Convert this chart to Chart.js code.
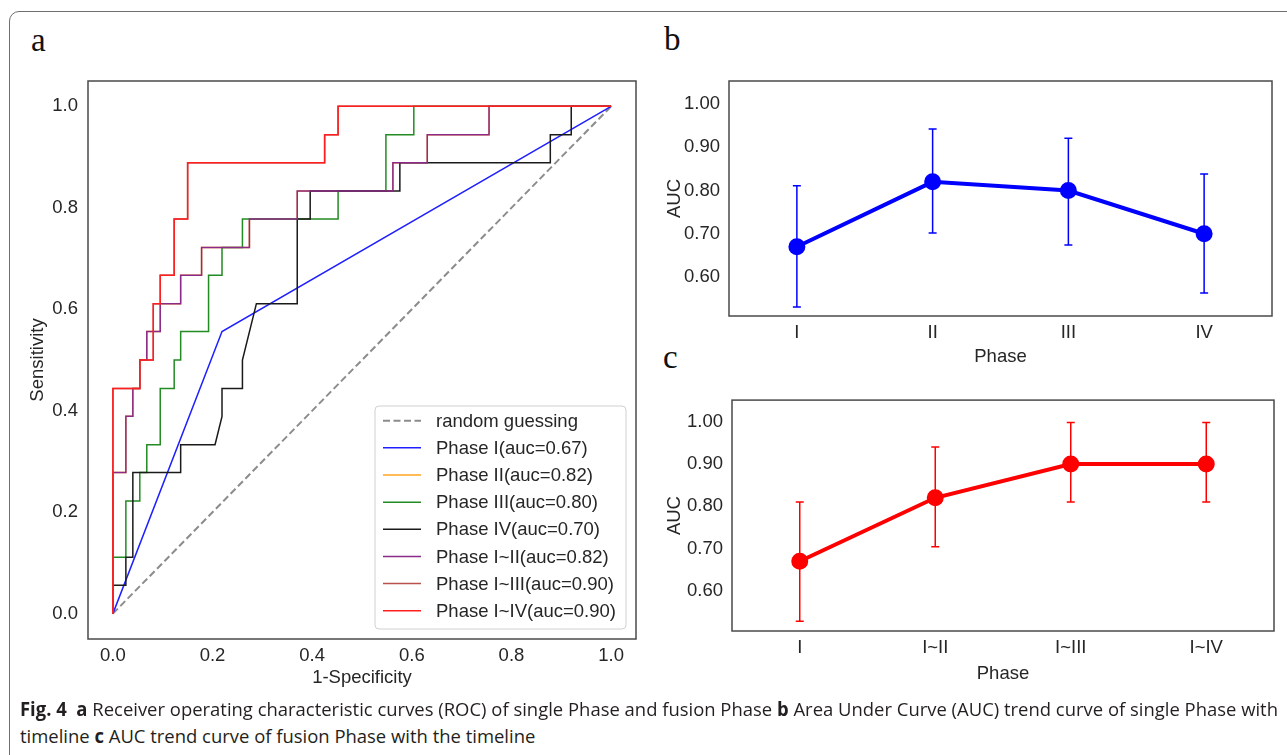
<!DOCTYPE html>
<html lang="en">
<head>
<meta charset="UTF-8">
<title>Fig. 4 ROC and AUC trend</title>
<script src="https://cdn.jsdelivr.net/npm/chart.js"></script>
<style>
  body { margin: 0; background: #fff; width: 1287px; height: 755px; overflow: hidden; position: relative; }
  .frame { position: absolute; left: 9px; top: 11px; width: 1400px; height: 900px; border: 1.5px solid #6f6f6f; border-radius: 10px; }
  .tag { position: absolute; font-family: "Liberation Serif", "DejaVu Serif", serif; font-size: 33px; line-height: 1; color: #111; }
  canvas { position: absolute; }
  .cap { position: absolute; left: 20px; white-space: nowrap; font-family: "Open Sans", sans-serif; font-size: 19px; line-height: 22px; color: #231f20; transform-origin: left center; }
</style>
</head>
<body>
<div class="frame"></div>
<div class="tag" style="left:31px; top:24px;">a</div>
<div class="tag" style="left:664px; top:23px;">b</div>
<div class="tag" style="left:663px; top:341px;">c</div>

<canvas id="rocChart" width="660" height="700" style="left:0; top:0;"></canvas>
<canvas id="singleChart" width="647" height="350" style="left:640px; top:20px;"></canvas>
<canvas id="fusionChart" width="647" height="320" style="left:640px; top:380px;"></canvas>

<div class="cap" id="cap1" style="top:698px;"><b>Fig. 4</b>&nbsp; <b>a</b> Receiver operating characteristic curves (ROC) of single Phase and fusion Phase <b>b</b> Area Under Curve (AUC) trend curve of single Phase with</div>
<div class="cap" id="cap2" style="top:725px;">timeline <b>c</b> AUC trend curve of fusion Phase with the timeline</div>

<script>
// ---- panel a: ROC curves (1-specificity / sensitivity) ----
const randomFpr = [0, 1];
const randomTpr = [0, 1];
const phase1Fpr = [0, 0.219, 1];
const phase1Tpr = [0, 0.556, 1];
const phase2Fpr = [0, 0, 0.026, 0.026, 0.040, 0.040, 0.054, 0.054, 0.068, 0.068, 0.095, 0.095, 0.136, 0.136, 0.178, 0.178, 0.274, 0.274, 0.370, 0.370, 0.562, 0.562, 0.631, 0.631, 0.755, 0.755, 1];
const phase2Tpr = [0, 0.278, 0.278, 0.389, 0.389, 0.444, 0.444, 0.5, 0.5, 0.556, 0.556, 0.611, 0.611, 0.667, 0.667, 0.722, 0.722, 0.778, 0.778, 0.833, 0.833, 0.889, 0.889, 0.944, 0.944, 1, 1];
const phase3Fpr = [0, 0, 0.026, 0.026, 0.054, 0.054, 0.068, 0.068, 0.095, 0.095, 0.123, 0.123, 0.136, 0.136, 0.192, 0.192, 0.219, 0.219, 0.260, 0.260, 0.452, 0.452, 0.548, 0.548, 0.604, 0.604, 1];
const phase3Tpr = [0, 0.111, 0.111, 0.222, 0.222, 0.278, 0.278, 0.333, 0.333, 0.444, 0.444, 0.5, 0.5, 0.556, 0.556, 0.667, 0.667, 0.722, 0.722, 0.778, 0.778, 0.833, 0.833, 0.944, 0.944, 1, 1];
const phase4Fpr = [0, 0, 0.026, 0.026, 0.040, 0.040, 0.136, 0.136, 0.205, 0.219, 0.219, 0.260, 0.260, 0.288, 0.370, 0.370, 0.396, 0.396, 0.576, 0.576, 0.878, 0.878, 0.920, 0.920, 1];
const phase4Tpr = [0, 0.056, 0.056, 0.111, 0.111, 0.278, 0.278, 0.333, 0.333, 0.389, 0.444, 0.444, 0.5, 0.611, 0.611, 0.778, 0.778, 0.833, 0.833, 0.889, 0.889, 0.944, 0.944, 1, 1];
const phase12Fpr = [0, 0, 0.026, 0.026, 0.040, 0.040, 0.054, 0.054, 0.068, 0.068, 0.095, 0.095, 0.136, 0.136, 0.178, 0.178, 0.274, 0.274, 0.370, 0.370, 0.562, 0.562, 0.631, 0.631, 0.755, 0.755, 1];
const phase12Tpr = [0, 0.278, 0.278, 0.389, 0.389, 0.444, 0.444, 0.5, 0.5, 0.556, 0.556, 0.611, 0.611, 0.667, 0.667, 0.722, 0.722, 0.778, 0.778, 0.833, 0.833, 0.889, 0.889, 0.944, 0.944, 1, 1];
const phase13Fpr = [0, 0, 0.054, 0.054, 0.081, 0.081, 0.095, 0.095, 0.123, 0.123, 0.150, 0.150, 0.425, 0.425, 0.452, 0.452, 1];
const phase13Tpr = [0, 0.444, 0.444, 0.5, 0.5, 0.611, 0.611, 0.667, 0.667, 0.778, 0.778, 0.889, 0.889, 0.944, 0.944, 1, 1];
const phase14Fpr = [0, 0, 0.054, 0.054, 0.081, 0.081, 0.095, 0.095, 0.123, 0.123, 0.150, 0.150, 0.425, 0.425, 0.452, 0.452, 1];
const phase14Tpr = [0, 0.444, 0.444, 0.5, 0.5, 0.611, 0.611, 0.667, 0.667, 0.778, 0.778, 0.889, 0.889, 0.944, 0.944, 1, 1];
const rocTicks = [0, 0.2, 0.4, 0.6, 0.8, 1.0];

// ---- panels b and c: AUC with confidence intervals ----
const singleLabels = ['I', 'II', 'III', 'IV'];
const singleAuc = [0.67, 0.82, 0.80, 0.70];
const singleLow = [0.531, 0.702, 0.674, 0.563];
const singleHigh = [0.811, 0.942, 0.921, 0.838];
const fusionLabels = ['I', 'I~II', 'I~III', 'I~IV'];
const fusionAuc = [0.67, 0.82, 0.90, 0.90];
const fusionLow = [0.528, 0.704, 0.81, 0.81];
const fusionHigh = [0.81, 0.94, 0.998, 0.998];
const aucTicks = [0.6, 0.7, 0.8, 0.9, 1.0];

const tickFont = { family: '"Liberation Sans", Arial, sans-serif', size: 18.5 };
const inkColor = '#262626';

function pts(xs, ys) {
    return xs.map((x, i) => ({ x: x, y: ys[i] }));
}

function rocSet(label, xs, ys, color, dash) {
    return {
        label: label,
        data: pts(xs, ys),
        showLine: true,
        borderColor: color,
        borderWidth: dash ? 2 : 1.5,
        borderDash: dash || [],
        pointRadius: 0,
        tension: 0,
        fill: false
    };
}

// spines on all four sides, like matplotlib
const boxPlugin = {
    id: 'box',
    afterDraw(chart) {
        const a = chart.chartArea, ctx = chart.ctx;
        ctx.save();
        ctx.strokeStyle = '#4a4a4a';
        ctx.lineWidth = 1.5;
        ctx.strokeRect(a.left, a.top, a.right - a.left, a.bottom - a.top);
        ctx.restore();
    }
};

const rocLegend = {
    id: 'rocLegend',
    afterDraw(chart) {
        const a = chart.chartArea, ctx = chart.ctx;
        const w = 251, h = 223;
        const left = a.right - 10 - w, top = a.bottom - 10 - h;
        ctx.save();
        ctx.fillStyle = 'rgba(255,255,255,0.85)';
        ctx.strokeStyle = '#d0d0d0';
        ctx.lineWidth = 1;
        ctx.beginPath();
        ctx.roundRect(left, top, w, h, 4);
        ctx.fill();
        ctx.stroke();
        ctx.font = '18.5px "Liberation Sans", Arial, sans-serif';
        ctx.textBaseline = 'middle';
        chart.data.datasets.forEach((ds, i) => {
            const cy = top + 14.7 + i * 27.15;
            ctx.strokeStyle = ds.borderColor;
            ctx.lineWidth = ds.borderWidth;
            ctx.setLineDash(ds.borderDash);
            ctx.beginPath();
            ctx.moveTo(left + 8, cy);
            ctx.lineTo(left + 46, cy);
            ctx.stroke();
            ctx.setLineDash([]);
            ctx.fillStyle = inkColor;
            ctx.fillText(ds.label, left + 61, cy + 1);
        });
        ctx.restore();
    }
};

const errorBars = {
    id: 'errorBars',
    beforeDatasetsDraw(chart, args, opts) {
        const ctx = chart.ctx, x = chart.scales.x, y = chart.scales.y;
        ctx.save();
        ctx.strokeStyle = opts.color;
        ctx.lineWidth = 1.5;
        opts.low.forEach((lo, i) => {
            const px = x.getPixelForValue(i);
            const y1 = y.getPixelForValue(lo);
            const y2 = y.getPixelForValue(opts.high[i]);
            ctx.beginPath();
            ctx.moveTo(px, y1); ctx.lineTo(px, y2);
            ctx.moveTo(px - 4, y1); ctx.lineTo(px + 4, y1);
            ctx.moveTo(px - 4, y2); ctx.lineTo(px + 4, y2);
            ctx.stroke();
        });
        ctx.restore();
    }
};

const rocData = [
    rocSet('random guessing', randomFpr, randomTpr, '#8c8c8c', [7, 3.5]),
    rocSet('Phase I(auc=0.67)', phase1Fpr, phase1Tpr, '#1f1fff'),
    rocSet('Phase II(auc=0.82)', phase2Fpr, phase2Tpr, '#ffa51f'),
    rocSet('Phase III(auc=0.80)', phase3Fpr, phase3Tpr, '#238b23'),
    rocSet('Phase IV(auc=0.70)', phase4Fpr, phase4Tpr, '#1a1a1a'),
    rocSet('Phase I~II(auc=0.82)', phase12Fpr, phase12Tpr, '#8b2a8b'),
    rocSet('Phase I~III(auc=0.90)', phase13Fpr, phase13Tpr, '#b9524e'),
    rocSet('Phase I~IV(auc=0.90)', phase14Fpr, phase14Tpr, '#ff1f1f')
];
// later series are drawn on top, as in the original plot
rocData.forEach((ds, i) => { ds.order = rocData.length - i; });

new Chart(document.getElementById('rocChart'), {
    type: 'scatter',
    data: { datasets: rocData },
    plugins: [boxPlugin, rocLegend],
    options: {
        responsive: false,
        animation: false,
        devicePixelRatio: 1,
        layout: { padding: { top: 81, right: 24, bottom: 0, left: 0 } },
        plugins: { legend: { display: false }, tooltip: { enabled: false } },
        scales: {
            x: {
                type: 'linear', min: -0.05, max: 1.05,
                afterFit: s => { s.height = 61; },
                afterBuildTicks: s => { s.ticks = rocTicks.map(v => ({ value: v })); },
                grid: { display: false, drawTicks: false },
                border: { display: false },
                ticks: { font: tickFont, color: inkColor, padding: 6, maxRotation: 0, callback: v => v.toFixed(1) },
                title: { display: true, text: '1-Specificity', font: tickFont, color: inkColor, padding: { top: 0, bottom: 11 } }
            },
            y: {
                type: 'linear', min: -0.05, max: 1.05,
                afterFit: s => { s.width = 88; },
                afterBuildTicks: s => { s.ticks = rocTicks.map(v => ({ value: v })); },
                grid: { display: false, drawTicks: false },
                border: { display: false },
                ticks: { font: tickFont, color: inkColor, padding: 10, callback: v => v.toFixed(1) },
                title: { display: true, text: 'Sensitivity', font: tickFont, color: inkColor, padding: { top: 27, bottom: 0 } }
            }
        }
    }
});

function aucChart(id, labels, values, low, high, color, box) {
    return new Chart(document.getElementById(id), {
        type: 'line',
        data: {
            labels: labels,
            datasets: [{
                data: values,
                borderColor: color,
                backgroundColor: color,
                pointBackgroundColor: color,
                pointBorderColor: color,
                borderWidth: 4,
                pointRadius: 6.5,
                tension: 0
            }]
        },
        plugins: [boxPlugin, errorBars],
        options: {
            responsive: false,
            animation: false,
            devicePixelRatio: 1,
            layout: { padding: { top: box.top, right: box.right, bottom: 0, left: 0 } },
            plugins: {
                legend: { display: false },
                tooltip: { enabled: false },
                errorBars: { low: low, high: high, color: color }
            },
            scales: {
                x: {
                    type: 'category', offset: true,
                    afterFit: s => { s.height = box.xHeight; },
                    grid: { display: false, drawTicks: false, offset: true },
                    border: { display: false },
                    ticks: { font: tickFont, color: inkColor, padding: 6 },
                    title: { display: true, text: 'Phase', font: tickFont, color: inkColor, padding: { top: 0, bottom: box.titlePad } }
                },
                y: {
                    min: box.min, max: box.max,
                    afterFit: s => { s.width = box.yWidth; },
                    afterBuildTicks: s => { s.ticks = aucTicks.map(v => ({ value: v })); },
                    grid: { display: false, drawTicks: false },
                    border: { display: false },
                    ticks: { font: tickFont, color: inkColor, padding: 9, callback: v => v.toFixed(2) },
                    title: { display: true, text: 'AUC', font: tickFont, color: inkColor, padding: { top: 24, bottom: 0 } }
                }
            }
        }
    });
}

aucChart('singleChart', singleLabels, singleAuc, singleLow, singleHigh, '#0000ff',
    { top: 61, right: 15, xHeight: 54, yWidth: 89, titlePad: 2, min: 0.51, max: 1.053 });
aucChart('fusionChart', fusionLabels, fusionAuc, fusionLow, fusionHigh, '#ff0000',
    { top: 16, right: 13, xHeight: 69, yWidth: 92, titlePad: 15, min: 0.505, max: 1.051 });

// caption typeface is condensed in the original: squeeze to the same line width
const cap1 = document.getElementById('cap1');
const cap2 = document.getElementById('cap2');
const k = 1258 / cap1.getBoundingClientRect().width;
[cap1, cap2].forEach(el => { el.style.transform = 'scaleX(' + k + ')'; });
</script>
</body>
</html>
